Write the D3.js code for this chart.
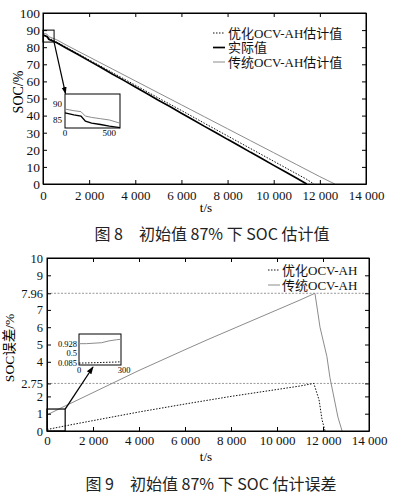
<!DOCTYPE html>
<html>
<head>
<meta charset="utf-8">
<script src="https://cdn.jsdelivr.net/npm/d3@7"></script>
<style>
  body { margin: 0; background: #fff; }
  svg { display: block; }
  .tick text { font-family: "Liberation Serif", "Noto Sans CJK SC", serif; fill: #111; }
</style>
</head>
<body>
<svg id="chart" width="399" height="500"></svg>
<script>
// ---------- data: figure 8 (SOC estimates) ----------
const actualT   = [0, 180, 250, 600, 1000, 1500, 2000, 2500, 3000, 3500, 4000, 4500, 5000, 5500, 6000, 6500, 7000, 7500, 8000, 8500, 9000, 9500, 10000, 10500, 11000, 11430];
const actualSoc = [87.2, 86.2, 84.6, 82.6, 79.6, 75.9, 72.0, 68.3, 64.3, 60.6, 56.7, 52.9, 49.0, 45.3, 41.4, 37.6, 33.7, 30.0, 26.1, 22.4, 18.5, 14.8, 10.9, 7.1, 3.3, 0];
const optT      = [0, 1000, 2000, 3000, 4000, 5000, 6000, 7000, 8000, 9000, 10000, 11000, 11430, 11740];
const optSoc    = [87.3, 80.0, 72.6, 65.2, 57.8, 50.3, 43.0, 35.5, 28.1, 20.7, 13.3, 5.9, 2.75, 0];
const tradT     = [0, 180, 250, 600, 1000, 2000, 3000, 4000, 5000, 6000, 7000, 8000, 9000, 10000, 11000, 12000, 12650];
const tradSoc   = [88.3, 87.6, 86.2, 84.3, 81.3, 74.3, 67.3, 60.3, 53.3, 46.3, 39.3, 32.3, 25.3, 18.3, 11.3, 4.3, 0];

// zoomed inset of figure 8 (0 - 600 s)
const inset8T      = [0, 100, 180, 230, 300, 400, 500, 620];
const inset8Actual = [87.2, 86.6, 86.2, 84.6, 84.0, 83.6, 83.1, 82.6];
const inset8Trad   = [88.4, 87.9, 87.6, 86.2, 85.8, 85.4, 85.0, 84.0];

// ---------- data: figure 9 (SOC error) ----------
const errOptT    = [0, 1000, 2000, 3000, 4000, 5000, 6000, 7000, 8000, 9000, 10000, 11000, 11600, 11830, 11960, 12090];
const errOpt     = [0.085, 0.35, 0.6, 0.85, 1.1, 1.33, 1.56, 1.78, 2.0, 2.2, 2.4, 2.6, 2.75, 1.79, 0.64, 0];
const errTradT   = [0, 790, 1000, 2000, 3000, 4000, 5000, 6000, 7000, 8000, 9000, 10000, 11000, 11650, 11870, 12170, 12300, 12650, 12830];
const errTrad    = [0.93, 1.45, 1.58, 2.22, 2.86, 3.5, 4.1, 4.7, 5.29, 5.86, 6.43, 7.0, 7.57, 7.96, 6.0, 4.3, 3.1, 0.8, 0];

// zoomed inset of figure 9 (0 - 300 s)
const inset9T    = [0, 50, 100, 150, 200, 250, 280];
const inset9Opt  = [0.085, 0.09, 0.1, 0.11, 0.12, 0.13, 0.14];
const inset9Trad = [0.928, 0.93, 0.95, 0.97, 1.05, 1.1, 1.12];

// ticks and labels
const xTicks      = [0, 2000, 4000, 6000, 8000, 10000, 12000, 14000];
const socTicks    = [0, 10, 20, 30, 40, 50, 60, 70, 80, 90, 100];
const errTicks    = [0, 1, 2, 2.75, 4, 5, 6, 7, 7.96, 9, 10];
const errRefLines = [7.96, 2.75];
const legend8     = ["优化OCV-AH估计值", "实际值", "传统OCV-AH估计值"];
const legend9     = ["优化OCV-AH", "传统OCV-AH"];
const caption8    = "图 8\u2003初始值 87% 下 SOC 估计值";
const caption9    = "图 9\u2003初始值 87% 下 SOC 估计误差";

const serif = '"Liberation Serif", "Noto Sans CJK SC", serif';
const GRAY = "#8c8c8c";

const svg = d3.select("#chart");
svg.append("rect").attr("width", 399).attr("height", 500).attr("fill", "#fff");

svg.append("defs").append("marker")
    .attr("id", "arrow")
    .attr("viewBox", "0 0 10 10")
    .attr("refX", 9).attr("refY", 5)
    .attr("markerWidth", 6).attr("markerHeight", 6)
    .attr("orient", "auto-start-reverse")
  .append("path")
    .attr("d", "M0,1.5 L10,5 L0,8.5 z")
    .attr("fill", "#000");

const fmtLocale = d3.formatLocale({ decimal: ".", thousands: " ", grouping: [3], currency: ["", ""] });
const fmtX = fmtLocale.format(",");

const zip = (a, b) => a.map((v, i) => [v, b[i]]);

// draws frame, inward ticks on all four sides and labels
function drawFrame(g, x, y, yTicks, opts) {
  const [x0, x1] = x.range();
  const [y0, y1] = y.range();

  g.append("g")
    .attr("transform", `translate(0,${y0})`)
    .call(d3.axisBottom(x).tickValues(xTicks).tickFormat(fmtX).tickSize(-4).tickSizeOuter(0).tickPadding(opts.xPad))
    .call(a => a.selectAll("text").attr("font-size", 13));
  g.append("g")
    .attr("transform", `translate(0,${y1})`)
    .call(d3.axisTop(x).tickValues(xTicks).tickFormat("").tickSize(-4).tickSizeOuter(0));
  g.append("g")
    .attr("transform", `translate(${x0},0)`)
    .call(d3.axisLeft(y).tickValues(yTicks).tickFormat(d => d).tickSize(-4).tickSizeOuter(0).tickPadding(opts.yPad))
    .call(a => a.selectAll("text").attr("font-size", opts.yFont));
  g.append("g")
    .attr("transform", `translate(${x1},0)`)
    .call(d3.axisRight(y).tickValues(yTicks).tickFormat("").tickSize(-4).tickSizeOuter(0));

  g.append("rect")
    .attr("x", x0).attr("y", y1)
    .attr("width", x1 - x0).attr("height", y0 - y1)
    .attr("fill", "none").attr("stroke", "#000").attr("stroke-width", 1);
}

function addLine(g, line, pts, style) {
  g.append("path")
    .datum(pts)
    .attr("d", line)
    .attr("fill", "none")
    .attr("stroke", style.color)
    .attr("stroke-width", style.width)
    .attr("stroke-dasharray", style.dash || null);
}

const styleOpt    = { color: "#111", width: 1, dash: "1.5,1.5" };
const styleActual = { color: "#000", width: 1.7 };
const styleTrad   = { color: GRAY, width: 1 };

// ================= Figure 8 =================
{
  const g = svg.append("g");
  const x = d3.scaleLinear().domain([0, 14000]).range([43, 366]);
  const y = d3.scaleLinear().domain([0, 100]).range([184, 13]);
  const line = d3.line().x(d => x(d[0])).y(d => y(d[1]));

  addLine(g, line, zip(tradT, tradSoc), styleTrad);
  addLine(g, line, zip(optT, optSoc), styleOpt);
  addLine(g, line, zip(actualT, actualSoc), styleActual);

  drawFrame(g, x, y, socTicks, { xPad: 7, yPad: 3, yFont: 13.5 });

  // small box marking zoomed region
  g.append("rect")
    .attr("x", x(0)).attr("y", y(90))
    .attr("width", x(480) - x(0)).attr("height", y(83) - y(90))
    .attr("fill", "none").attr("stroke", "#000").attr("stroke-width", 1);

  // inset
  const ix = d3.scaleLinear().domain([0, 620]).range([65, 120]);
  const iy = d3.scaleLinear().domain([82.5, 93.1]).range([128, 94]);
  const iline = d3.line().x(d => ix(d[0])).y(d => iy(d[1]));
  g.append("rect").attr("x", 65).attr("y", 94).attr("width", 55).attr("height", 34)
    .attr("fill", "#fff").attr("stroke", "#000").attr("stroke-width", 1);
  addLine(g, iline, zip(inset8T, inset8Trad), styleTrad);
  addLine(g, iline, zip(inset8T, inset8Actual), { color: "#000", width: 1.4 });
  g.selectAll(".i8y").data([90, 85]).join("text")
    .attr("x", 62).attr("y", d => iy(d)).attr("dy", "0.35em")
    .attr("text-anchor", "end").attr("font-family", serif).attr("font-size", 9)
    .text(d => d);
  g.selectAll(".i8x").data([0, 500]).join("text")
    .attr("x", d => ix(d)).attr("y", 136)
    .attr("text-anchor", "middle").attr("font-family", serif).attr("font-size", 9)
    .text(d => d);

  g.append("line")
    .attr("x1", x(480)).attr("y1", y(83))
    .attr("x2", 65.5).attr("y2", 93.5)
    .attr("stroke", "#000").attr("stroke-width", 1.2)
    .attr("marker-end", "url(#arrow)");

  // axis titles
  g.append("text")
    .attr("transform", "translate(18,92) rotate(-90)")
    .attr("text-anchor", "middle").attr("dominant-baseline", "central")
    .attr("font-family", serif).attr("font-size", 14)
    .text("SOC/%");
  g.append("text")
    .attr("x", 206).attr("y", 212)
    .attr("text-anchor", "middle").attr("font-family", serif).attr("font-size", 13)
    .text("t/s");

  // legend
  const styles = [styleOpt, styleActual, styleTrad];
  const lg = g.selectAll(".lg8").data(legend8).join("g")
    .attr("transform", (d, i) => `translate(213,${33 + i * 14.5})`);
  lg.append("line").attr("x1", 0).attr("x2", 12)
    .attr("stroke", (d, i) => styles[i].color)
    .attr("stroke-width", (d, i) => styles[i].width)
    .attr("stroke-dasharray", (d, i) => styles[i].dash || null);
  lg.append("text").attr("x", 15).attr("dy", "0.35em")
    .attr("font-family", serif).attr("font-size", 13).attr("fill", "#111")
    .text(d => d);

  svg.append("text")
    .attr("x", 212).attr("y", 240)
    .attr("text-anchor", "middle")
    .attr("font-family", '"Noto Sans CJK SC", sans-serif').attr("font-size", 16).attr("fill", "#222")
    .text(caption8);
}

// ================= Figure 9 =================
{
  const g = svg.append("g");
  const x = d3.scaleLinear().domain([0, 14000]).range([47, 369]);
  const y = d3.scaleLinear().domain([0, 10]).range([431, 258]);
  const line = d3.line().x(d => x(d[0])).y(d => y(d[1]));

  // reference lines
  g.selectAll(".ref").data(errRefLines).join("line")
    .attr("x1", x(0)).attr("x2", x(14000))
    .attr("y1", d => y(d)).attr("y2", d => y(d))
    .attr("stroke", "#999").attr("stroke-width", 1).attr("stroke-dasharray", "2,1.5");

  addLine(g, line, zip(errTradT, errTrad), styleTrad);
  addLine(g, line, zip(errOptT, errOpt), styleOpt);

  drawFrame(g, x, y, errTicks, { xPad: 5, yPad: 4, yFont: 12.5 });

  // marked region
  g.append("rect")
    .attr("x", x(0)).attr("y", y(1.27))
    .attr("width", x(790) - x(0)).attr("height", y(0) - y(1.27))
    .attr("fill", "none").attr("stroke", "#000").attr("stroke-width", 1.2);

  // inset
  const ix = d3.scaleLinear().domain([0, 280]).range([79, 121]);
  const iy = d3.scaleLinear().domain([0, 1.35]).range([365, 334]);
  const iline = d3.line().x(d => ix(d[0])).y(d => iy(d[1]));
  g.append("rect").attr("x", 79).attr("y", 334).attr("width", 42).attr("height", 31)
    .attr("fill", "#fff").attr("stroke", "#000").attr("stroke-width", 1);
  addLine(g, iline, zip(inset9T, inset9Trad), styleTrad);
  addLine(g, iline, zip(inset9T, inset9Opt), styleOpt);
  g.selectAll(".i9y").data([0.928, 0.5, 0.085]).join("text")
    .attr("x", 77).attr("y", d => iy(d)).attr("dy", "0.35em")
    .attr("text-anchor", "end").attr("font-family", serif).attr("font-size", 8.5)
    .text(d => d);
  g.selectAll(".i9x").data([0, 300]).join("text")
    .attr("x", d => ix(d)).attr("y", 373)
    .attr("text-anchor", "middle").attr("font-family", serif).attr("font-size", 8.5)
    .text(d => d);

  g.append("line")
    .attr("x1", x(790)).attr("y1", y(1.27))
    .attr("x2", 93).attr("y2", 367)
    .attr("stroke", "#000").attr("stroke-width", 1.3)
    .attr("marker-end", "url(#arrow)");

  g.append("text")
    .attr("transform", "translate(9,348) rotate(-90)")
    .attr("text-anchor", "middle").attr("dominant-baseline", "central")
    .attr("font-family", serif).attr("font-size", 13.5)
    .text("SOC误差/%");
  g.append("text")
    .attr("x", 206).attr("y", 461)
    .attr("text-anchor", "middle").attr("font-family", serif).attr("font-size", 13)
    .text("t/s");

  const styles = [styleOpt, styleTrad];
  const lg = g.selectAll(".lg9").data(legend9).join("g")
    .attr("transform", (d, i) => `translate(268,${270 + i * 15})`);
  lg.append("line").attr("x1", 0).attr("x2", 12)
    .attr("stroke", (d, i) => styles[i].color)
    .attr("stroke-width", (d, i) => styles[i].width)
    .attr("stroke-dasharray", (d, i) => styles[i].dash || null);
  lg.append("text").attr("x", 14).attr("dy", "0.35em")
    .attr("font-family", serif).attr("font-size", 13).attr("fill", "#111")
    .text(d => d);

  svg.append("text")
    .attr("x", 211).attr("y", 490)
    .attr("text-anchor", "middle")
    .attr("font-family", '"Noto Sans CJK SC", sans-serif').attr("font-size", 16).attr("fill", "#222")
    .text(caption9);
}
</script>
</body>
</html>
